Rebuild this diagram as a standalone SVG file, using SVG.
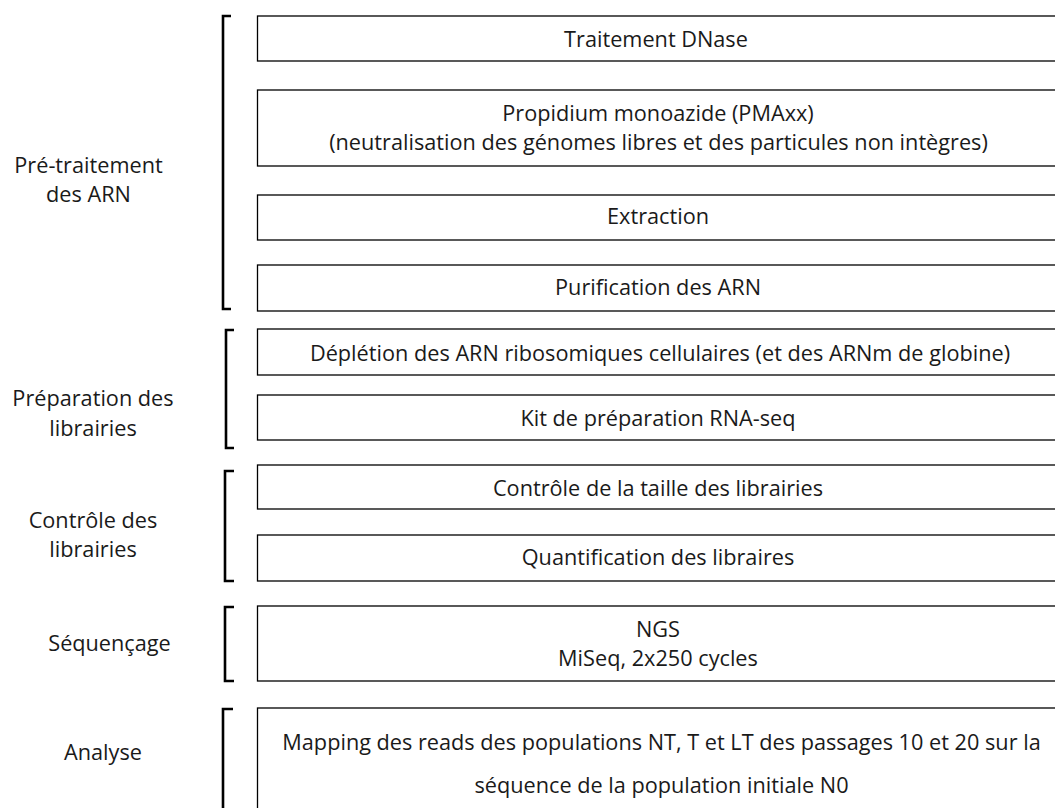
<svg xmlns="http://www.w3.org/2000/svg" width="1055" height="808" viewBox="0 0 1055 808">
<style>
.box{fill:#fff;stroke:#000;stroke-width:1.3}
.br{fill:none;stroke:#000;stroke-width:2.6}
text{font-family:"Open Sans","Liberation Sans",sans-serif;font-size:21.7px;fill:#1a1a1a;text-anchor:middle}
</style>
<rect width="1055" height="808" fill="#fff"/>
<g id="connectors">
<path class="br" d="M231,16 H223 V309 H231"/>
<path class="br" d="M234,330 H226 V448 H234"/>
<path class="br" d="M234,471 H225 V581 H234"/>
<path class="br" d="M234,607 H225 V681 H234"/>
<path class="br" d="M233,709 H223 V815"/>
</g>
<g id="label-pretraitement"><text x="88.5" y="173">Pré-traitement</text><text x="88.5" y="202">des ARN</text></g>
<g id="label-preparation"><text x="93" y="406">Préparation des</text><text x="93" y="436">librairies</text></g>
<g id="label-controle"><text x="93" y="528">Contrôle des</text><text x="93" y="557">librairies</text></g>
<g id="label-sequencage"><text x="109.5" y="651">Séquençage</text></g>
<g id="label-analyse"><text x="103" y="760">Analyse</text></g>
<g id="n1"><rect class="box" x="257.5" y="16" width="800" height="45"/><text x="656" y="47">Traitement DNase</text></g>
<g id="n2"><rect class="box" x="257.5" y="90" width="800" height="76"/><text x="658" y="121">Propidium monoazide (PMAxx)</text><text x="658.5" y="150">(neutralisation des génomes libres et des particules non intègres)</text></g>
<g id="n3"><rect class="box" x="257.5" y="195" width="800" height="45"/><text x="658" y="224">Extraction</text></g>
<g id="n4"><rect class="box" x="257.5" y="265" width="800" height="46"/><text x="658" y="295">Purification des ARN</text></g>
<g id="n5"><rect class="box" x="257.5" y="329" width="800" height="46"/><text x="660" y="361">Déplétion des ARN ribosomiques cellulaires (et des ARNm de globine)</text></g>
<g id="n6"><rect class="box" x="257.5" y="395" width="800" height="45"/><text x="658" y="426">Kit de préparation RNA-seq</text></g>
<g id="n7"><rect class="box" x="257.5" y="465" width="800" height="44"/><text x="658" y="496">Contrôle de la taille des librairies</text></g>
<g id="n8"><rect class="box" x="257.5" y="535" width="800" height="46"/><text x="658" y="565">Quantification des libraires</text></g>
<g id="n9"><rect class="box" x="257.5" y="606" width="800" height="75"/><text x="658" y="637">NGS</text><text x="658" y="666">MiSeq, 2x250 cycles</text></g>
<g id="n10"><rect class="box" x="257.5" y="708" width="800" height="120"/><text x="661.5" y="750">Mapping des reads des populations NT, T et LT des passages 10 et 20 sur la</text><text x="661.5" y="793">séquence de la population initiale N0</text></g>
</svg>
